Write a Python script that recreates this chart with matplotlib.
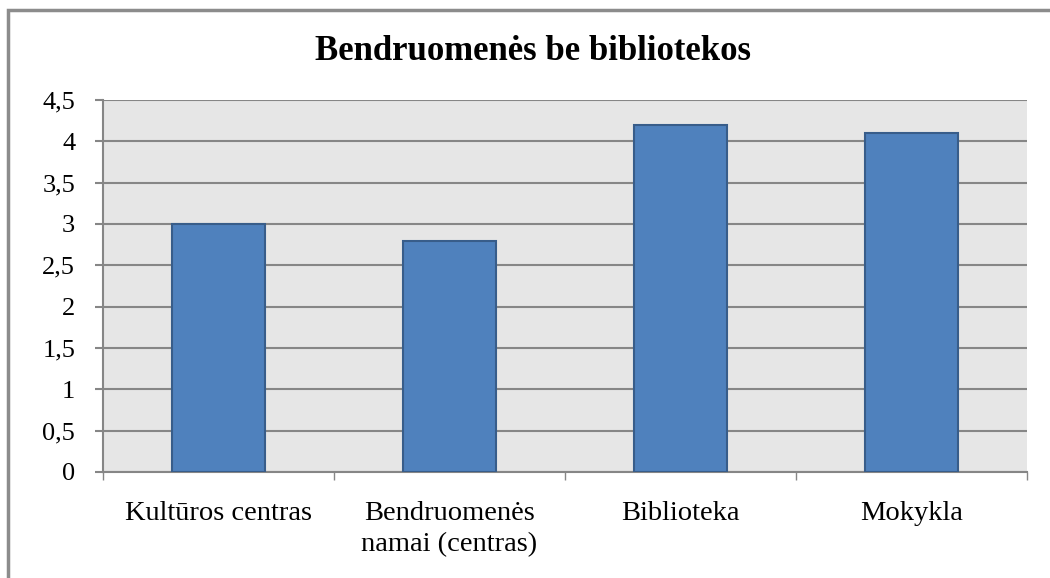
import numpy as np
import matplotlib.pyplot as plt
from matplotlib.patches import Rectangle

categories = ["Kultūros centras", "Bendruomenės\nnamai (centras)", "Biblioteka", "Mokykla"]
values = [3.0, 2.8, 4.2, 4.1]
yticks = [0, 0.5, 1, 1.5, 2, 2.5, 3, 3.5, 4, 4.5]
ytick_labels = ["0", "0,5", "1", "1,5", "2", "2,5", "3", "3,5", "4", "4,5"]

plt.rcParams['font.family'] = ['Liberation Serif', 'DejaVu Serif']

fig = plt.figure(figsize=(10.5, 5.78), dpi=100)
ax = fig.add_axes([103/1050, 106/578, 924/1050, 372/578])

# outer chart frame (only top and left visible)
fig.patches.append(Rectangle((8/1050, -0.1), 1.2, (568/578) + 0.1, transform=fig.transFigure,
                             fill=False, edgecolor='#8c8c8c', linewidth=2.5, zorder=0))

x = np.arange(len(categories))
ax.set_facecolor('#e6e6e6')
ax.bar(x, values, width=0.4, color='#4f81bd', edgecolor='#385d8a', linewidth=1.5, zorder=3)

ax.set_xlim(-0.5, len(categories) - 0.5)
ax.set_ylim(0, 4.5)
ax.set_yticks(yticks)
ax.set_yticklabels(ytick_labels, fontsize=19)
ax.yaxis.grid(True, color='#868686', linewidth=1.5)
ax.set_axisbelow(True)

ax.set_xticks(x)
ax.set_xticklabels(categories, fontsize=20.5, linespacing=1.3)
ax.set_xticks(np.arange(len(categories) + 1) - 0.5, minor=True)
ax.tick_params(axis='x', which='major', length=0, pad=21)
ax.tick_params(axis='x', which='minor', length=6, width=1, color='#868686', direction='out')
ax.tick_params(axis='y', length=6, width=1.5, color='#868686', pad=14)

for side in ['top', 'right']:
    ax.spines[side].set_visible(False)
for side in ['left', 'bottom']:
    ax.spines[side].set_color('#868686')
    ax.spines[side].set_linewidth(1.5)

fig.text(533/1050, 1 - 52/578, "Bendruomenės be bibliotekos", ha='center', va='center',
         fontsize=25, fontweight='bold')

fig.savefig('out.png', dpi=100)
